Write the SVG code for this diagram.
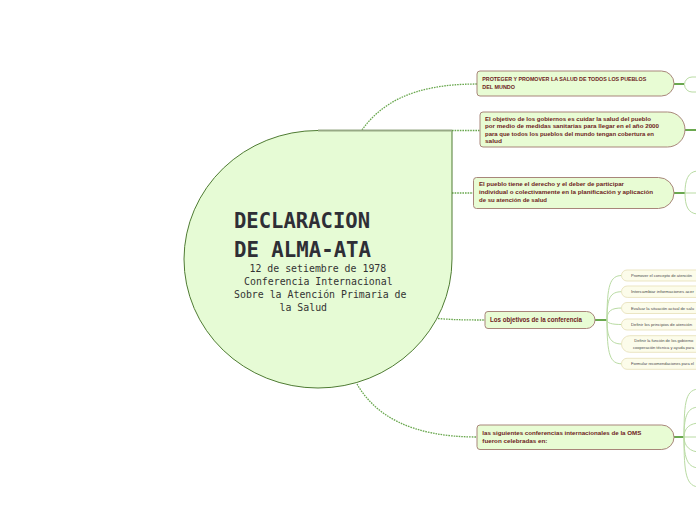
<svg xmlns="http://www.w3.org/2000/svg" width="696" height="520" viewBox="0 0 696 520">
<style>
.dot{fill:none;stroke:#6aa84f;stroke-width:1.3;stroke-dasharray:1.6 1}
.br{fill:none;stroke:#6aa84f;stroke-width:2}
.lt{fill:none;stroke:#b9dba3;stroke-width:1}
.node{fill:#e8fcd4;stroke:#a8867a;stroke-width:1}
.nt{font-family:"Liberation Sans",Arial,sans-serif;font-weight:bold;fill:#6e1c1c}
.child{fill:#fcfcea;stroke:#ebe5c3;stroke-width:1}
.ct{font-family:"Liberation Sans",Arial,sans-serif;font-size:4.1px;fill:#4a4a4a}
.title{font-family:"DejaVu Sans Mono",monospace;font-weight:bold;font-size:21px;fill:#2e2e36}
.sub{font-family:"DejaVu Sans Mono",monospace;font-size:9.9px;fill:#333}
</style>
<rect width="696" height="520" fill="#ffffff"/>
<g id="connectors">
<path class="dot" d="M362,130 C380,105 410,84 477,84"/>
<path class="dot" d="M452,130.5 H480"/>
<path class="dot" d="M452,193 H473.5"/>
<path class="dot" d="M438,318.5 C455,320 470,320 485,320"/>
<path class="dot" d="M357,384 C375,415 410,437 477,437"/>
<path class="br" d="M674,84 H684"/>
<path class="br" d="M685,130 H696"/>
<path class="br" d="M674,193 H685"/>
<path class="lt" d="M685,193 H696"/>
<path class="lt" d="M685,193 C685,180 688,172 697,171"/>
<path class="lt" d="M685,193 C685,206 688,213 697,214"/>
<path class="br" d="M595,320 H607"/>
<path class="lt" d="M607,320 C607,285 610,275.5 622,275.5"/>
<path class="lt" d="M607,320 C607,298 610,291.7 622,291.7"/>
<path class="lt" d="M607,320 C607,311 611,308 622,308"/>
<path class="lt" d="M607,320 C607,323 611,324.5 622,324.5"/>
<path class="lt" d="M607,320 C607,337 610,344 622,344"/>
<path class="lt" d="M607,320 C607,355 610,363.8 622,363.8"/>
<path class="br" d="M674,437 H684"/>
<path class="lt" d="M684,437 H697"/>
<path class="lt" d="M684,437 C684,400 686,389 700,389"/>
<path class="lt" d="M684,437 C684,414 688,407 700,407"/>
<path class="lt" d="M684,437 C684,428 690,423 700,423"/>
<path class="lt" d="M684,437 C684,446 690,452 700,452"/>
<path class="lt" d="M684,437 C684,460 688,468 700,468"/>
<path class="lt" d="M684,437 C684,474 686,487 700,487"/>
</g>
<g id="central">
<path d="M318,130.5 H452 V259 A134,129 0 0 1 318,388 A134,129 0 0 1 184,259 A134,129 0 0 1 318,130.5 Z" fill="#e6fbd5" stroke="#4f7b33" stroke-width="1"/>
<path d="M318,130.5 H452" stroke="#97a985" stroke-width="2"/>
<text class="title" x="234" y="228" textLength="136" lengthAdjust="spacingAndGlyphs">DECLARACION</text>
<text class="title" x="234" y="257" textLength="137" lengthAdjust="spacingAndGlyphs">DE ALMA-ATA</text>
<text class="sub" x="249.5" y="271.5">12 de setiembre de 1978</text>
<text class="sub" x="244" y="284.5">Conferencia Internacional</text>
<text class="sub" x="234" y="297.5">Sobre la Atención Primaria de</text>
<text class="sub" x="279.5" y="310.5">la Salud</text>
</g>
<g id="node1">
<path class="node" d="M480,71 H661.5 A12.5,12.5 0 0 1 661.5,96 H480 Q477,96 477,93 V74 Q477,71 480,71 Z"/>
<text class="nt" font-size="5.6" x="482.3" y="81" textLength="164" lengthAdjust="spacingAndGlyphs">PROTEGER Y PROMOVER LA SALUD DE TODOS LOS PUEBLOS</text>
<text class="nt" font-size="5.6" x="482.3" y="89" textLength="32.7" lengthAdjust="spacingAndGlyphs">DEL MUNDO</text>
</g>
<g id="node1-child">
<rect x="684.5" y="77" width="40" height="15" rx="7.5" fill="#ffffff" stroke="#b9dba3" stroke-width="1"/>
</g>
<g id="node2">
<path class="node" d="M483,112 H667.5 A17.5,17.5 0 0 1 667.5,147 H483 Q480,147 480,144 V115 Q480,112 483,112 Z"/>
<text class="nt" font-size="6" x="485" y="120.5" textLength="166" lengthAdjust="spacingAndGlyphs">El objetivo de los gobiernos es cuidar la salud del pueblo</text>
<text class="nt" font-size="6" x="485" y="128" textLength="174" lengthAdjust="spacingAndGlyphs">por medio de medidas sanitarias para llegar en el año 2000</text>
<text class="nt" font-size="6" x="485" y="135.5" textLength="169" lengthAdjust="spacingAndGlyphs">para que todos los pueblos del mundo tengan cobertura en</text>
<text class="nt" font-size="6" x="485" y="143" textLength="17" lengthAdjust="spacingAndGlyphs">salud</text>
</g>
<g id="node3">
<path class="node" d="M476.5,177.5 H658.5 A15.5,15.5 0 0 1 658.5,208.5 H476.5 Q473.5,208.5 473.5,205.5 V180.5 Q473.5,177.5 476.5,177.5 Z"/>
<text class="nt" font-size="6" x="479" y="185.5" textLength="145" lengthAdjust="spacingAndGlyphs">El pueblo tiene el derecho y el deber de participar</text>
<text class="nt" font-size="6" x="479" y="193.5" textLength="174" lengthAdjust="spacingAndGlyphs">individual o colectivamente en la planificación y aplicación</text>
<text class="nt" font-size="6" x="479" y="201.5" textLength="68" lengthAdjust="spacingAndGlyphs">de su atención de salud</text>
</g>
<g id="node4">
<path class="node" d="M488,311.5 H586.5 A8.5,8.5 0 0 1 586.5,328.5 H488 Q485,328.5 485,325.5 V314.5 Q485,311.5 488,311.5 Z"/>
<text class="nt" font-size="7" x="490" y="322.3" textLength="92" lengthAdjust="spacingAndGlyphs">Los objetivos de la conferencia</text>
</g>
<g id="node4-child1">
<rect class="child" x="621.5" y="270" width="100" height="11" rx="5.5"/>
<text class="ct" x="631" y="277" textLength="61" lengthAdjust="spacingAndGlyphs">Promover el concepto de atención</text>
</g>
<g id="node4-child2">
<rect class="child" x="621.5" y="286" width="100" height="11.4" rx="5.7"/>
<text class="ct" x="631" y="293.2" textLength="63" lengthAdjust="spacingAndGlyphs">Intercambiar informaciones acer</text>
</g>
<g id="node4-child3">
<rect class="child" x="621.5" y="302.5" width="100" height="11" rx="5.5"/>
<text class="ct" x="631" y="309.5" textLength="63" lengthAdjust="spacingAndGlyphs">Evaluar la situación actual de salu</text>
</g>
<g id="node4-child4">
<rect class="child" x="621.5" y="319" width="100" height="11" rx="5.5"/>
<text class="ct" x="631" y="326" textLength="61" lengthAdjust="spacingAndGlyphs">Definir los principios de atención</text>
</g>
<g id="node4-child5">
<rect class="child" x="621.5" y="335.7" width="100" height="16.6" rx="8.3"/>
<text class="ct" x="634.3" y="341.8" textLength="59" lengthAdjust="spacingAndGlyphs">Definir la función de los gobierno</text>
<text class="ct" x="633" y="349.4" textLength="61" lengthAdjust="spacingAndGlyphs">cooperación técnica y ayuda para</text>
</g>
<g id="node4-child6">
<rect class="child" x="621.5" y="358.3" width="100" height="11" rx="5.5"/>
<text class="ct" x="631" y="365.3" textLength="63" lengthAdjust="spacingAndGlyphs">Formular recomendaciones para el</text>
</g>
<g id="node5">
<path class="node" d="M480,425 H661.75 A12.25,12.25 0 0 1 661.75,449.5 H480 Q477,449.5 477,446.5 V428 Q477,425 480,425 Z"/>
<text class="nt" font-size="6.2" x="482.3" y="434.5" textLength="159" lengthAdjust="spacingAndGlyphs">las siguientes conferencias internacionales de la OMS</text>
<text class="nt" font-size="6.2" x="482.3" y="443.2" textLength="65" lengthAdjust="spacingAndGlyphs">fueron celebradas en:</text>
</g>
</svg>
